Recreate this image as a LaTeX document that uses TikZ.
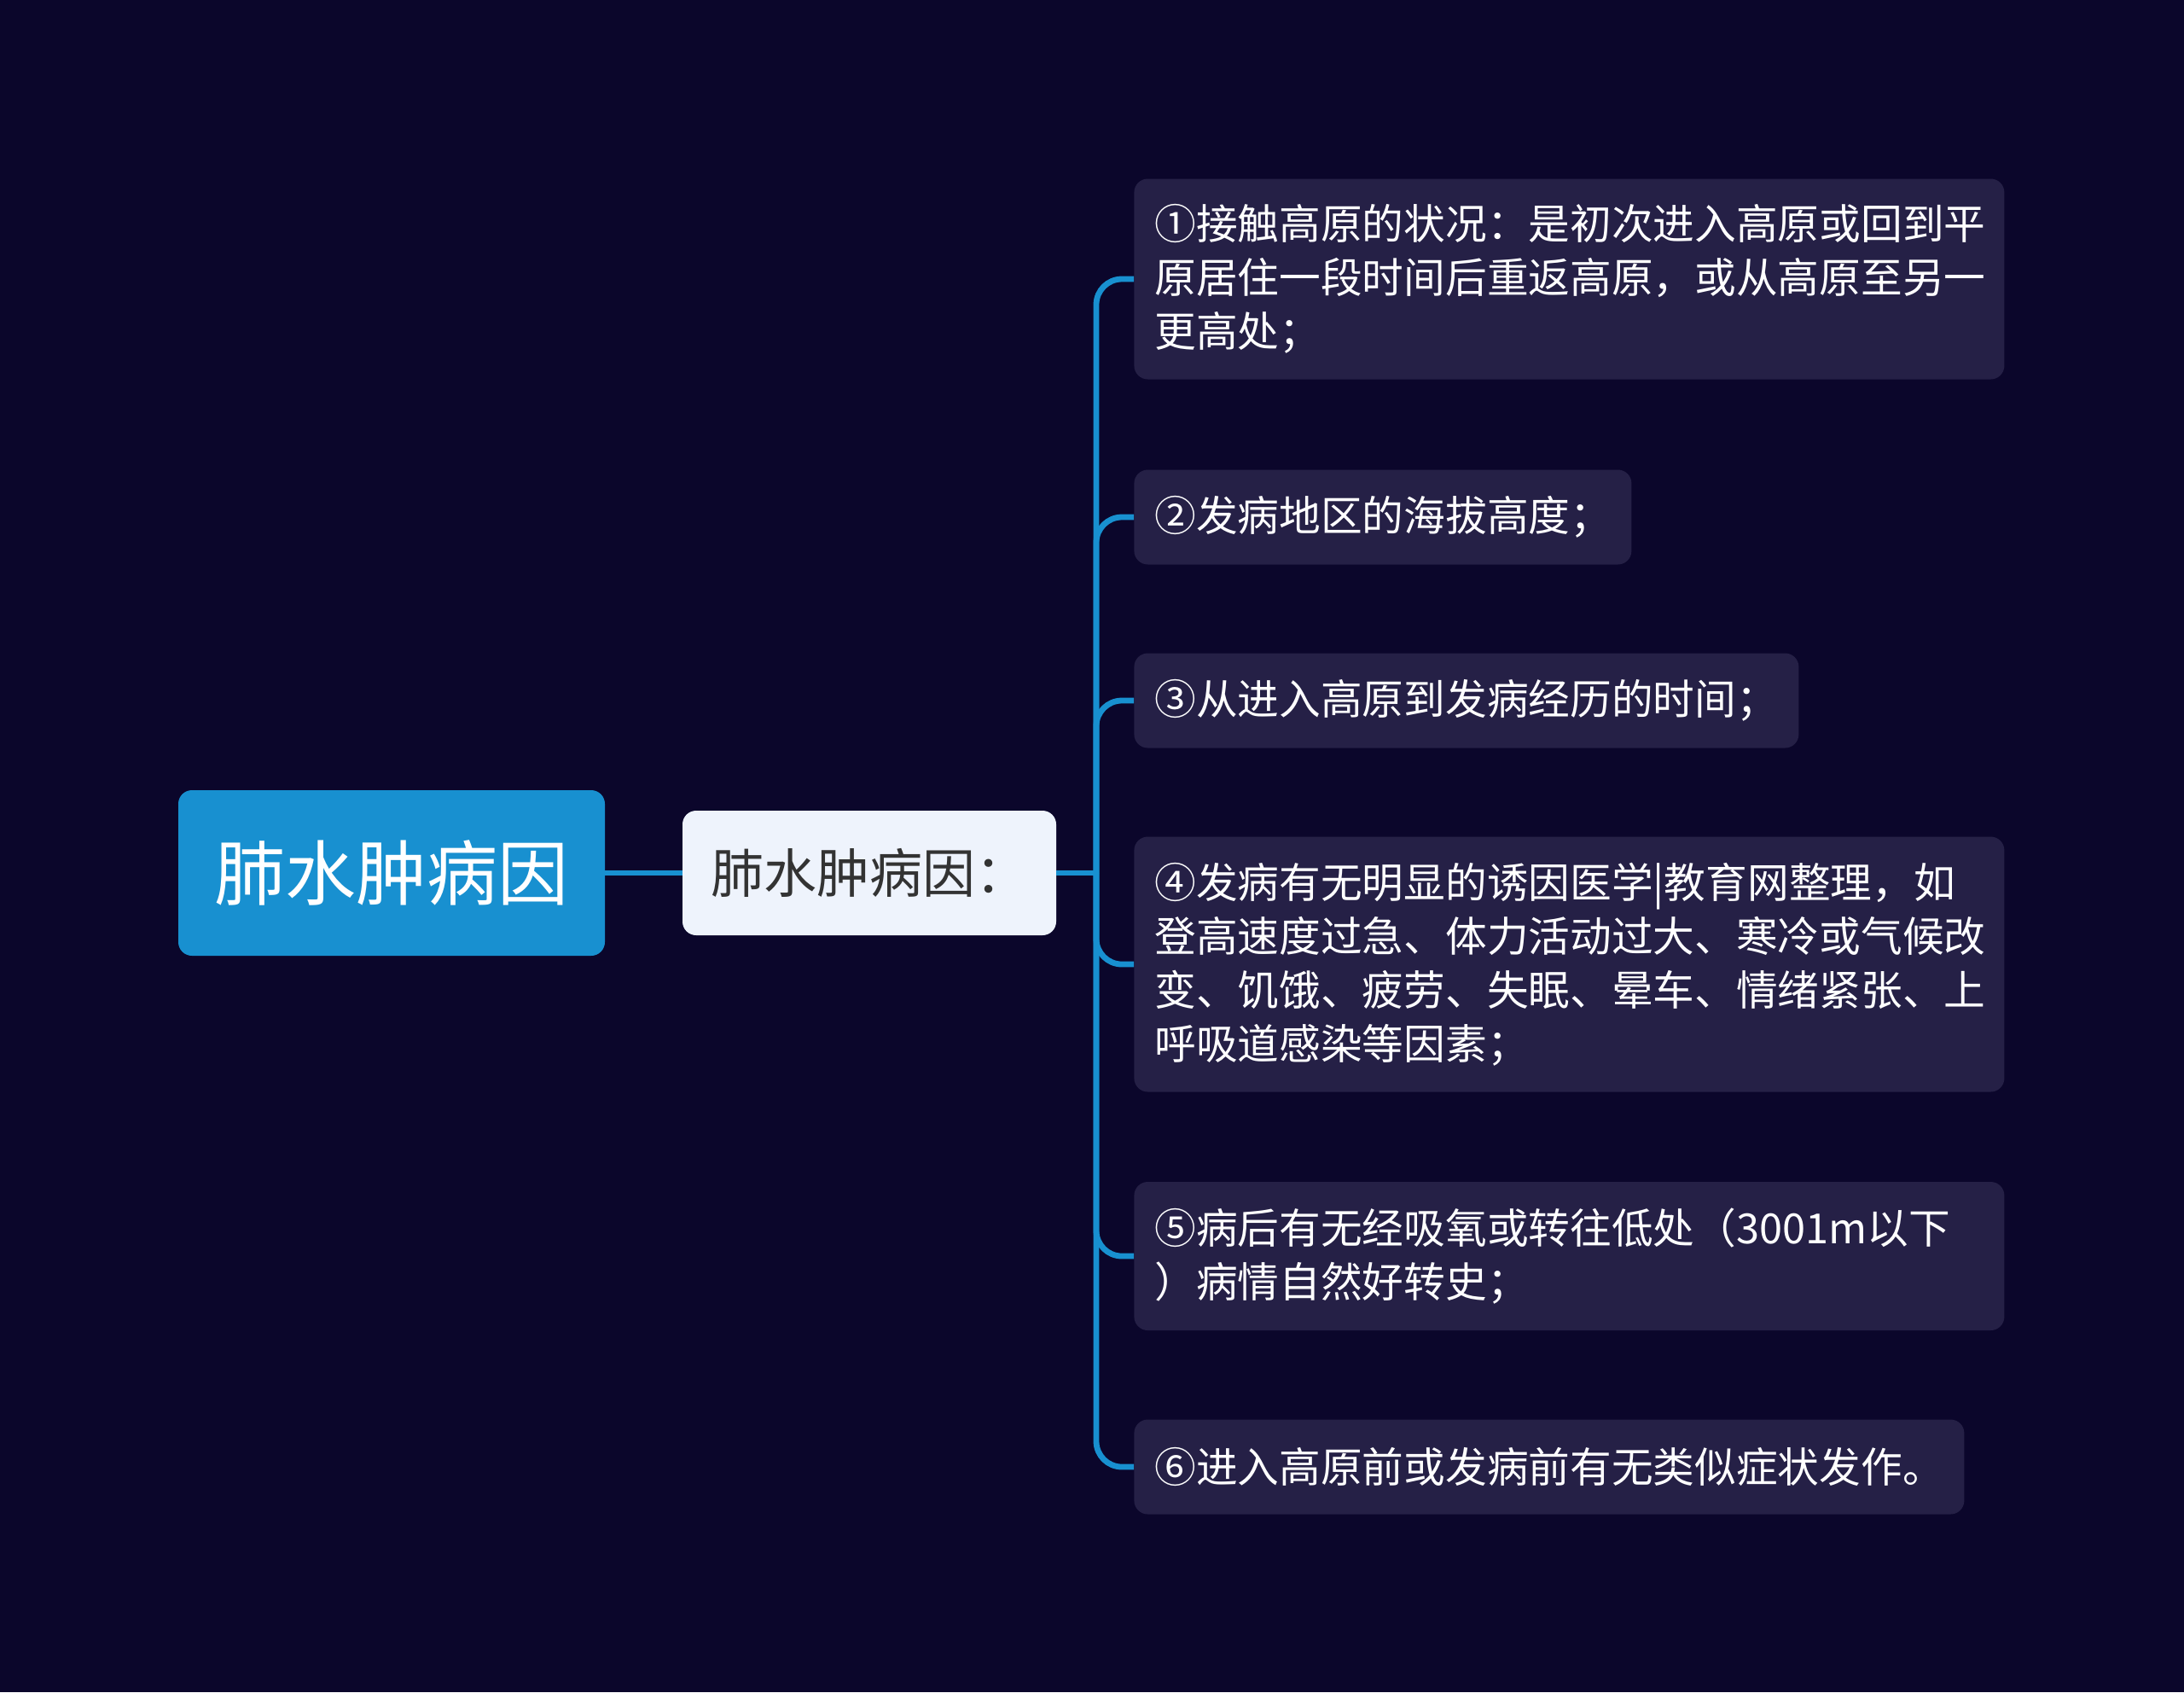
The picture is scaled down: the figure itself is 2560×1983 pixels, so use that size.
\documentclass[tikz,border=0pt]{standalone}
\usepackage{fontspec}
\setmainfont{Noto Sans CJK SC}
\definecolor{bg}{RGB}{11,6,43}
\definecolor{rootblue}{RGB}{24,144,208}
\definecolor{midfill}{RGB}{238,243,252}
\definecolor{midtext}{RGB}{51,51,51}
\definecolor{itemfill}{RGB}{37,32,70}
\tikzset{
  rootbox/.style={fill=rootblue, rounded corners=8pt, text=white, minimum width=250pt, minimum height=97pt, inner sep=0pt, font=\fontsize{41.5pt}{50pt}\selectfont},
  midbox/.style={fill=midfill, rounded corners=8pt, text=midtext, minimum width=219pt, minimum height=73pt, inner sep=0pt, font=\fontsize{31pt}{38pt}\selectfont},
  itembox/.style={fill=itemfill, rounded corners=8pt, text=white, anchor=west, align=left, inner xsep=12pt, inner ysep=0pt, font=\fontsize{24.35pt}{31.5pt}\selectfont},
  conn/.style={draw=rootblue, line width=3.4pt, rounded corners=15pt},
}
\begin{document}
\begin{tikzpicture}[x=0.5pt,y=-0.5pt]
\path[fill=bg] (0,0) rectangle (2560,1983);
\useasboundingbox (0,0) rectangle (2560,1983);
\node[rootbox] (root) at (459,1023) {肺水肿病因};
\node[midbox] (mid) at (1019,1023) {肺水肿病因：};
\node[itembox, text width=486pt, minimum height=117.5pt] (i1) at (1329,327) {①接触高原的状况：是初次进入高原或回到平\\原居住一段时间后重返高原，或从高原至另一\\更高处；};
\node[itembox, text width=267.5pt, minimum height=55.5pt] (i2) at (1329,606) {②发病地区的海拔高度；};
\node[itembox, text width=365.5pt, minimum height=55.5pt] (i3) at (1329,821) {③从进入高原到发病经历的时间；};
\node[itembox, text width=486pt, minimum height=149.5pt] (i4) at (1329,1130) {④发病有无明显的诱因医学|教育网整理，如\\登高速度过急、体力活动过大、寒冷或气候改\\变、饥饿、疲劳、失眠、晕车、情绪紧张、上\\呼吸道感染等因素；};
\node[itembox, text width=486pt, minimum height=87pt] (i5) at (1329,1472) {⑤病后有无经吸氧或转往低处（3001m以下\\）病情自然好转史；};
\node[itembox, text width=462.5pt, minimum height=55.5pt] (i6) at (1329,1719) {⑥进入高原前或发病前有无类似症状发作。};
\coordinate (tr) at (1285,1023);
\draw[conn] (root.east) -- (mid.west);
\draw[conn] (mid.east) -- (tr);
\foreach \n in {i1,i2,i3,i4,i5,i6}{
  \draw[conn] (tr) |- (\n.west);
}
\end{tikzpicture}
\end{document}
